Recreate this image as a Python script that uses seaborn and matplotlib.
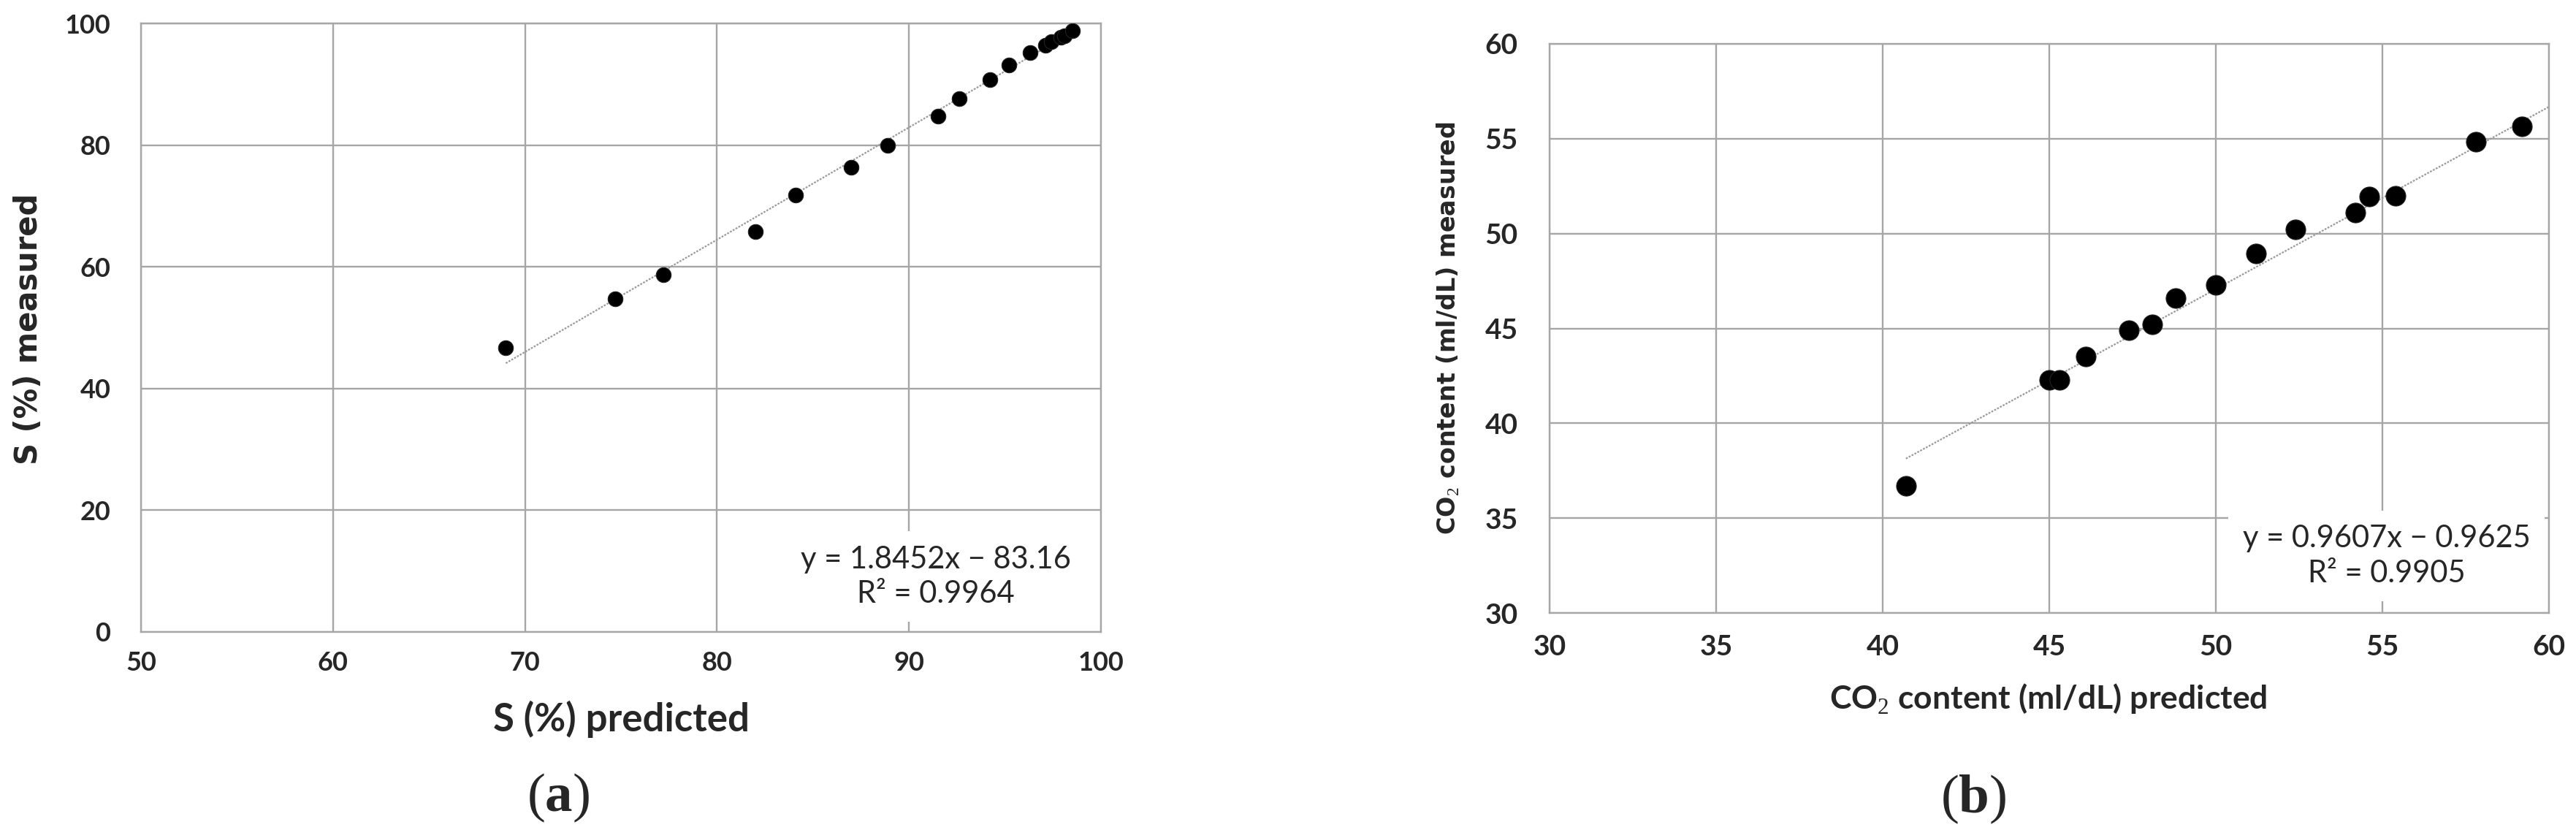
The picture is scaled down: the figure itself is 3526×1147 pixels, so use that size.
import numpy as np
import pandas as pd
import matplotlib
matplotlib.use("Agg")
import matplotlib.pyplot as plt
import seaborn as sns

# ---------------- data ----------------
s_predicted = [69.0, 74.7, 77.2, 82.0, 84.1, 87.0, 88.9, 91.5, 92.6, 94.2, 95.2,
               96.3, 97.1, 97.4, 97.9, 98.1, 98.5]
s_measured = [46.7, 54.7, 58.7, 65.8, 71.8, 76.3, 79.9, 84.8, 87.6, 90.8, 93.2,
              95.2, 96.4, 97.0, 97.7, 98.0, 98.8]
s_fit = (1.8452, -83.16)
s_eq = ["y = 1.8452x \u2212 83.16", "R\u00b2 = 0.9964"]

co2_predicted = [40.7, 45.0, 45.3, 46.1, 47.4, 48.1, 48.8, 50.0, 51.2, 52.4, 54.2,
                 54.6, 55.4, 57.8, 59.2]
co2_measured = [36.7, 42.3, 42.3, 43.5, 44.9, 45.2, 46.6, 47.3, 48.95, 50.2, 51.1,
                51.95, 52.0, 54.85, 55.65]
co2_fit = (0.9607, -0.9625)
co2_eq = ["y = 0.9607x \u2212 0.9625", "R\u00b2 = 0.9905"]

s_xticks = [50, 60, 70, 80, 90, 100]
s_yticks = [0, 20, 40, 60, 80, 100]
co2_xticks = [30, 35, 40, 45, 50, 55, 60]
co2_yticks = [30, 35, 40, 45, 50, 55, 60]

# ---------------- style ----------------
sns.set_style("white")
plt.rcParams['font.family'] = ['Lato', 'DejaVu Sans']
plt.rcParams['mathtext.fontset'] = 'custom'
plt.rcParams['mathtext.rm'] = 'Liberation Serif'
plt.rcParams['mathtext.bf'] = 'Liberation Serif:bold'

GRID = '#a6a6a6'

fig = plt.figure(figsize=(35.26, 11.47), dpi=100)
axL = fig.add_axes([0.05474, 0.2459, 0.4274 - 0.05474, 0.9721 - 0.2459])
axR = fig.add_axes([0.6015, 0.2685, 0.9895 - 0.6015, 0.9477 - 0.2685])


def style_axes(ax, xticks, yticks, tick_size, xpad, ypad):
    ax.set_xlim(xticks[0], xticks[-1])
    ax.set_ylim(yticks[0], yticks[-1])
    ax.set_xticks(xticks)
    ax.set_yticks(yticks)
    ax.set_axisbelow(True)
    ax.grid(True, color=GRID, linewidth=1.7)
    for sp in ax.spines.values():
        sp.set_visible(True)
        sp.set_color(GRID)
        sp.set_linewidth(1.7)
    ax.tick_params(axis='both', length=0, labelsize=tick_size)
    ax.tick_params(axis='x', pad=xpad)
    ax.tick_params(axis='y', pad=ypad)
    for lab in ax.get_xticklabels() + ax.get_yticklabels():
        lab.set_fontweight('bold')
        lab.set_fontfamily(['Lato', 'DejaVu Sans'])


def draw_panel(ax, xs, ys, fit, xmax_line, marker_s):
    df = pd.DataFrame({'x': xs, 'y': ys})
    slope, icpt = fit
    lx = np.array([min(xs), xmax_line])
    line_df = pd.DataFrame({'x': lx, 'y': slope * lx + icpt})
    sns.lineplot(data=line_df, x='x', y='y', ax=ax, color='#9a9a9a',
                 linewidth=1.6, linestyle=(0, (1.2, 0.8)), zorder=2)
    sns.scatterplot(data=df, x='x', y='y', ax=ax, color='black', s=marker_s,
                    edgecolor='#222222', linewidth=0.8, zorder=3)


# ---- panel (a)
draw_panel(axL, s_predicted, s_measured, s_fit, max(s_predicted), 215)
style_axes(axL, s_xticks, s_yticks, 26, 19, 30)
axL.set_xlabel("S (%) predicted", fontsize=38, fontweight='bold',
               family=['Lato', 'DejaVu Sans'], va='center')
axL.xaxis.set_label_coords(0.5, -0.143)
axL.set_ylabel("S (%) measured", fontsize=30, fontweight='bold',
               family=['DejaVu Sans'], va='center')
axL.yaxis.set_label_coords(-0.117, 0.498)
axL.text(91.4, 9.1, s_eq[0] + "\n" + s_eq[1], ha='center', va='center',
         fontsize=30, family=['Lato', 'DejaVu Sans'], linespacing=1.3,
         bbox=dict(facecolor='white', edgecolor='none', pad=14), zorder=2.2)

# ---- panel (b)
draw_panel(axR, co2_predicted, co2_measured, co2_fit, co2_xticks[-1], 380)
style_axes(axR, co2_xticks, co2_yticks, 28, 21, 31)
axR.set_xlabel("CO$_2$ content (ml/dL) predicted", fontsize=32, fontweight='bold',
               family=['Lato', 'DejaVu Sans'], va='center')
axR.xaxis.set_label_coords(0.499, -0.151)
axR.set_ylabel("CO$_2$ content (ml/dL) measured", fontsize=24, fontweight='bold',
               family=['DejaVu Sans'], va='center')
axR.yaxis.set_label_coords((1982 - 2121) / 1368, 0.5)
axR.text(55.13, 33.0, co2_eq[0] + "\n" + co2_eq[1], ha='center', va='center',
         fontsize=30, family=['Lato', 'DejaVu Sans'], linespacing=1.3,
         bbox=dict(facecolor='white', edgecolor='none', pad=14), zorder=2.2)

# ---- panel letters
fig.text(0.2167, 0.048, r"($\mathbf{a}$)", ha='center', va='center',
         fontsize=54, family=['Liberation Serif', 'DejaVu Serif'])
fig.text(0.766, 0.046, r"($\mathbf{b}$)", ha='center', va='center',
         fontsize=54, family=['Liberation Serif', 'DejaVu Serif'])

fig.savefig("out.png", dpi=100, facecolor='white')
